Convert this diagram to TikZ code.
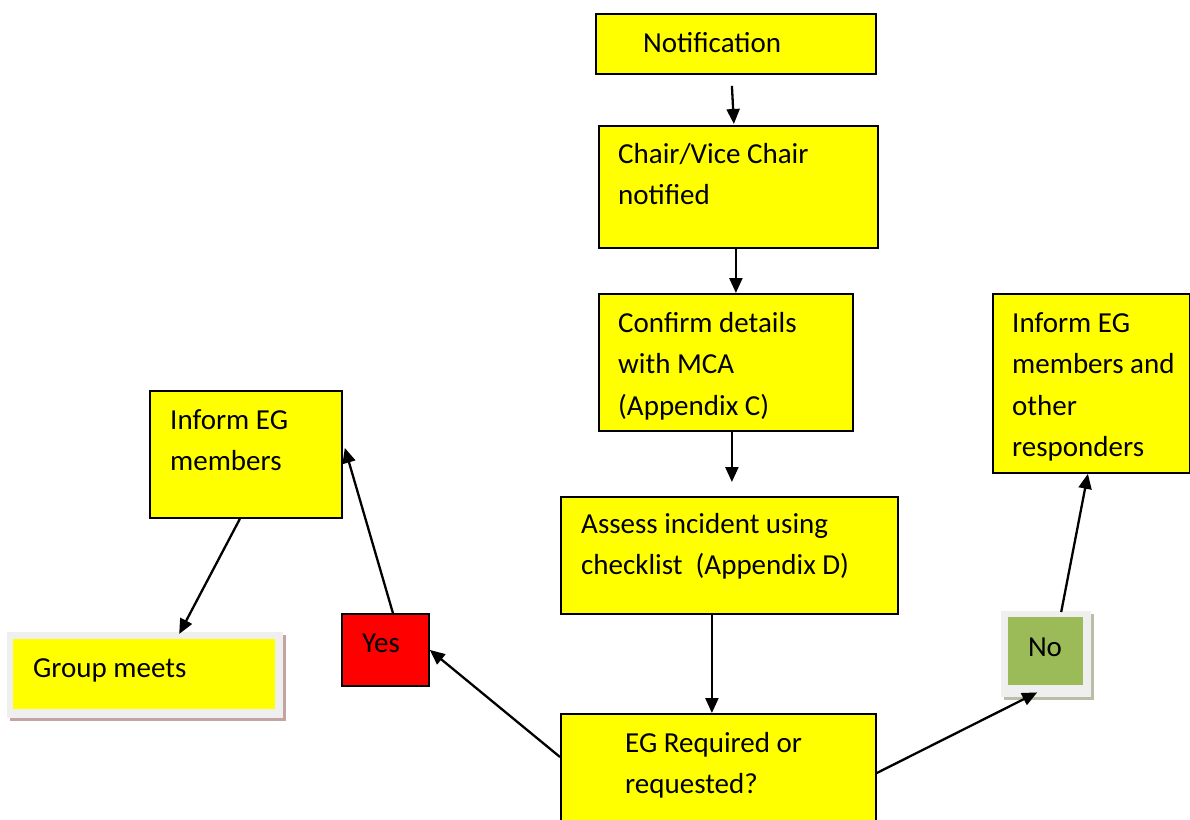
\documentclass[tikz,border=0pt]{standalone}
\usepackage{fontspec}
\setmainfont{Carlito}
\usetikzlibrary{arrows.meta,calc}
\definecolor{wyellow}{HTML}{FFFF00}
\definecolor{wred}{HTML}{FF0000}
\definecolor{wgreen}{HTML}{9BBB59}
\definecolor{wgrey}{HTML}{EFEFEF}
\definecolor{wbrown}{HTML}{C4A4A2}
\definecolor{wolive}{HTML}{B9BEA9}
\newcommand\fixedspaces{\spaceskip=0.2261em plus 0pt minus 0pt\relax}
\tikzset{
  box/.style={draw=black,line width=1.8pt,fill=wyellow,anchor=north west,inner sep=0pt},
  txt/.style={anchor=base west,inner sep=0pt,align=left,text width=300pt,
    font=\fontsize{29}{41.5}\selectfont,execute at begin node=\fixedspaces},
  ctxt/.style={inner sep=0pt,font=\fontsize{29}{41.5}\selectfont},
  arr/.style={line width=2.3pt,-{Triangle[length=15pt,width=13pt]}},
}
\begin{document}
\begin{tikzpicture}[x=1pt,y=-1pt]
\useasboundingbox (0,0) rectangle (1190,819);
% boxes
\node[box,minimum width=280pt,minimum height=60pt] (notif) at (595,13) {};
\node[txt] (notifT) at (643,52) {Notification};
\node[box,minimum width=279pt,minimum height=122pt] (chair) at (598,125) {};
\node[txt] (chairT) at (618,163) {Chair/Vice Chair\\notified};
\node[box,minimum width=254pt,minimum height=137pt] (confirm) at (598,293) {};
\node[txt] (confirmT) at (618,332) {Confirm details\\with MCA\\(Appendix C)};
\node[box,minimum width=337pt,minimum height=117pt] (assess) at (560,496) {};
\node[txt] (assessT) at (581,533) {Assess incident using\\checklist\ \ (Appendix D)};
\node[box,minimum width=315pt,minimum height=120pt] (eg) at (560,713) {};
\node[txt] (egT) at (625,752) {EG Required or\\requested?};
\node[box,minimum width=197pt,minimum height=179pt] (informR) at (992,293) {};
\node[txt] (informRT) at (1012,332) {Inform EG\\members and\\other\\responders};
\node[box,minimum width=192pt,minimum height=127pt] (informL) at (149,390) {};
\node[txt] (informLT) at (170,429) {Inform EG\\members};
\node[box,fill=wred,minimum width=87pt,minimum height=72pt] (yes) at (341,613) {};
\node[ctxt] (yesT) at (381,643) {Yes};
% No box
\fill[wolive] (1004,614) rectangle (1094,700);
\node[anchor=north west,inner sep=0pt,fill=wgrey,minimum width=90pt,minimum height=86pt] (no) at (1001,611) {};
\node[anchor=north west,inner sep=0pt,fill=wgreen,minimum width=75pt,minimum height=68pt] (noIn) at (1008,617) {};
\node[ctxt] (noT) at (1045,647) {No};
% Group meets box
\fill[wbrown] (10,635) rectangle (286,721);
\node[anchor=north west,inner sep=0pt,fill=wgrey,minimum width=276pt,minimum height=86pt] (group) at (7,632) {};
\node[anchor=north west,inner sep=0pt,fill=wyellow,minimum width=262pt,minimum height=70pt] (groupIn) at (13,639) {};
\node[txt] (groupT) at (33,677) {Group meets};
% arrows
\draw[arr] ($(notif.south)+(-4,11)$) -- ($(chair.north)+(-4.5,-1)$);
\draw[arr] ($(chair.south)+(-2.5,0)$) -- ($(confirm.north)+(10,0)$);
\draw[arr] ($(confirm.south)+(6,0)$) -- ($(assess.north)+(2.5,-14)$);
\draw[arr] ($(assess.south)+(-17.5,0)$) -- ($(eg.north)+(-6.5,0)$);
\draw[arr] ($(eg.north west)+(0,44)$) -- (yes.east);
\draw[arr] ($(yes.north)+(7.5,0)$) -- ($(informL.east)+(2,-6.5)$);
\draw[arr] ($(informL.south)+(-6,0)$) -- ($(group.north)+(34,2)$);
\draw[arr] ($(eg.north east)+(0,60)$) -- ($(no.south)+(-9,-5)$);
\draw[arr] ($(no.north)+(15,1)$) -- ($(informR.south)+(-3.5,0)$);
\end{tikzpicture}
\end{document}
